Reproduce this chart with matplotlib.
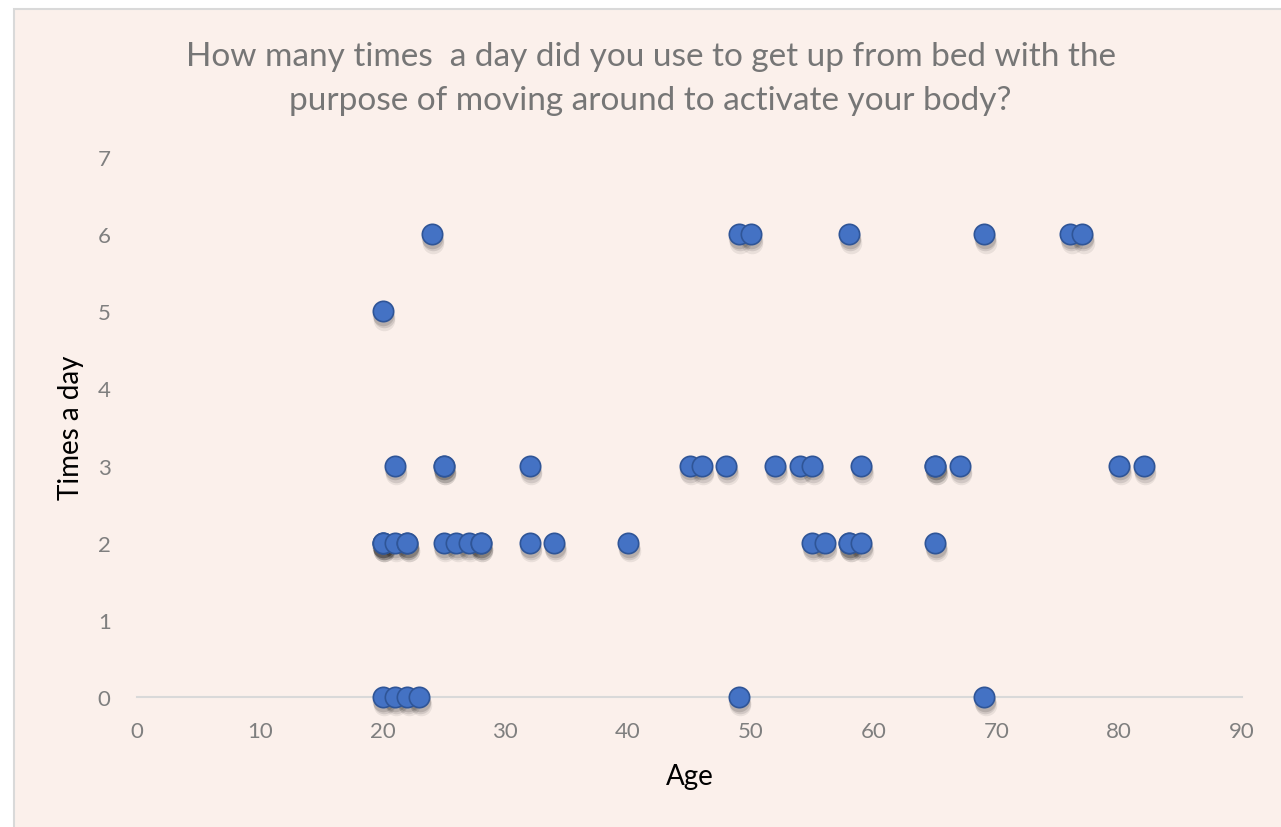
import matplotlib.pyplot as plt
from matplotlib.patches import Rectangle

# survey answers: age of respondent and how many times a day they got up
age = [24, 49, 50, 58, 69, 76, 77,
       20,
       21, 25, 25, 32, 45, 46, 48, 52, 54, 55, 59, 65, 65, 67, 80, 82,
       20, 20, 20, 21, 22, 22, 25, 26, 27, 28, 28, 32, 34, 40,
       55, 56, 58, 58, 59, 65,
       20, 21, 22, 23, 49, 69]
times = [6, 6, 6, 6, 6, 6, 6,
         5,
         3, 3, 3, 3, 3, 3, 3, 3, 3, 3, 3, 3, 3, 3, 3, 3,
         2, 2, 2, 2, 2, 2, 2, 2, 2, 2, 2, 2, 2, 2,
         2, 2, 2, 2, 2, 2,
         0, 0, 0, 0, 0, 0]

title = "How many times  a day did you use to get up from bed with the\npurpose of moving around to activate your body?"

bg = "#FBF0EB"
grey = "#7F7F7F"
font = "Lato"

fig = plt.figure(figsize=(12.81, 8.28), dpi=100)
fig.patch.set_facecolor("white")
fig.patches.append(Rectangle((14 / 1281, -0.01), 1.0, 1 - 10 / 828 + 0.01,
                             transform=fig.transFigure, facecolor=bg,
                             edgecolor="#D9D9D9", linewidth=1.5, zorder=-1))

ax = fig.add_axes([137 / 1281, 1 - 698 / 828, 1105 / 1281, 540 / 828])
ax.set_zorder(1)
ax.set_facecolor("none")
ax.set_xlim(0, 90)
ax.set_ylim(0, 7)
ax.set_xticks(range(0, 91, 10))
ax.set_yticks(range(0, 8))

for s in ["top", "right", "left"]:
    ax.spines[s].set_visible(False)
ax.spines["bottom"].set_color("#D9D9D9")
ax.spines["bottom"].set_linewidth(1.5)
ax.tick_params(length=0, labelsize=16, labelcolor=grey)
ax.tick_params(axis="x", pad=17)
ax.tick_params(axis="y", pad=19)
for lab in ax.get_xticklabels() + ax.get_yticklabels():
    lab.set_fontfamily(font)

# soft drop shadow under each marker
for dx, dy, a in [(0.04, -0.05, 0.12), (0.08, -0.08, 0.10), (0.12, -0.11, 0.07)]:
    ax.scatter([x + dx for x in age], [y + dy for y in times], s=240,
               color="black", alpha=a, linewidths=0, clip_on=False, zorder=2)
ax.scatter(age, times, s=215, color="#4472C4", edgecolors="#2F5597",
           linewidths=1.2, clip_on=False, zorder=3)

ax.set_xlabel("Age", fontsize=20, fontfamily=font, color="black", labelpad=16)
ax.set_ylabel("Times a day", fontsize=20, fontfamily=font, color="black", labelpad=10)
fig.text(0.508, 1 - 79 / 828, title, ha="center", va="center", fontsize=24,
         fontfamily=font, color="#767676", linespacing=1.62)

fig.savefig("out.png", dpi=100, facecolor=fig.get_facecolor())
